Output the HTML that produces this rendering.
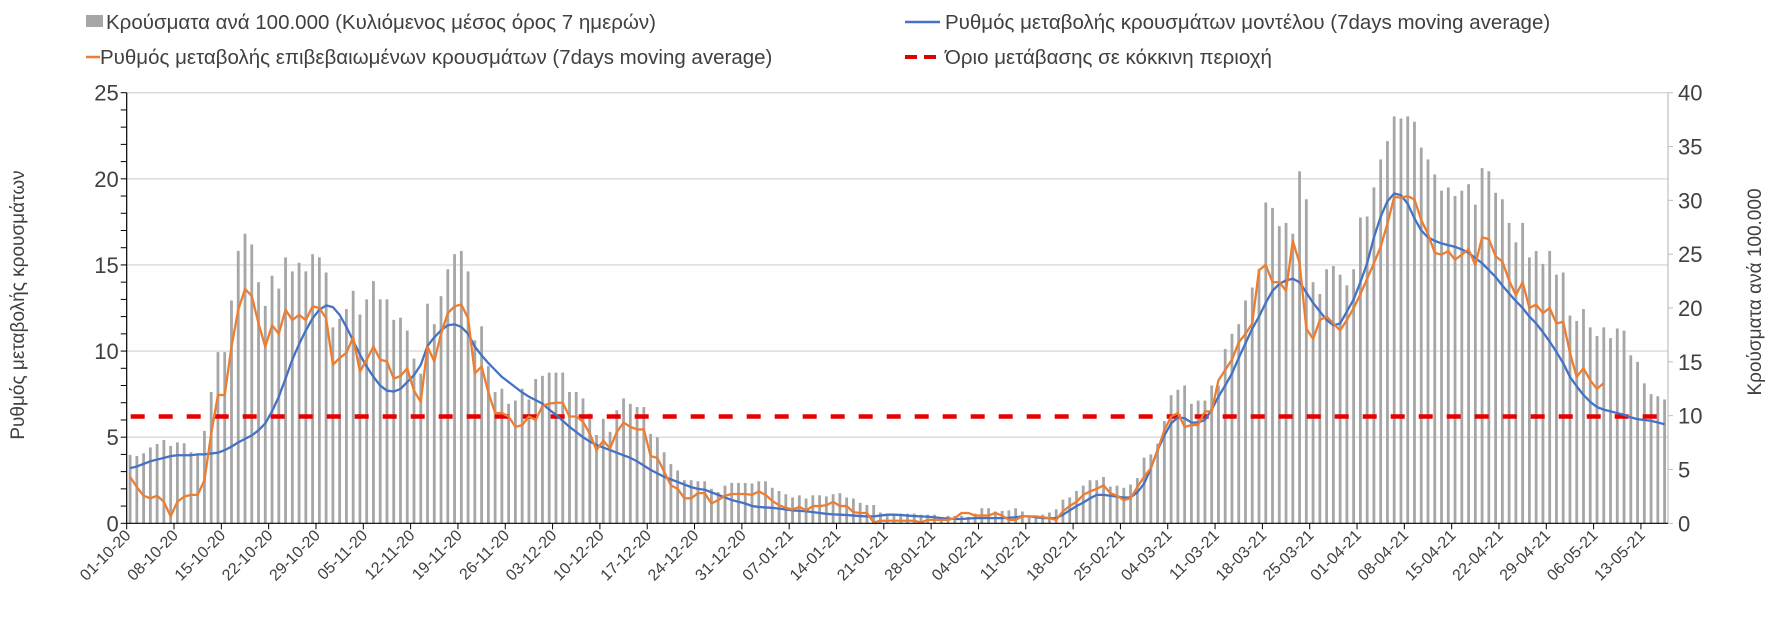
<!DOCTYPE html>
<html><head><meta charset="utf-8">
<style>
html,body{margin:0;padding:0;background:#fff;}
svg{display:block;font-family:"Liberation Sans","DejaVu Sans",sans-serif;}
</style></head>
<body>
<svg id="chart" width="1771" height="621" viewBox="0 0 1771 621" xmlns="http://www.w3.org/2000/svg">
<rect width="1771" height="621" fill="#fff"/>
<g id="grid"></g>
<g id="bars"></g>
<g id="lines"></g>
<g id="axes"></g>
<g id="legend">
  <rect x="86" y="15" width="17" height="12" fill="#a6a6a6"/>
  <text x="106" y="29" font-size="20.5" fill="#404040">Κρούσματα ανά 100.000 (Κυλιόμενος μέσος όρος 7 ημερών)</text>
  <line x1="905" y1="22" x2="940" y2="22" stroke="#4472c4" stroke-width="2.5"/>
  <text x="945" y="29" font-size="20.5" fill="#404040">Ρυθμός μεταβολής κρουσμάτων μοντέλου (7days moving average)</text>
  <line x1="86" y1="57" x2="100" y2="57" stroke="#ed7d31" stroke-width="2.5"/>
  <text x="100" y="64" font-size="20.5" fill="#404040">Ρυθμός μεταβολής επιβεβαιωμένων κρουσμάτων (7days moving average)</text>
  <line x1="905" y1="57" x2="940" y2="57" stroke="#e00000" stroke-width="4" stroke-dasharray="12,7"/>
  <text x="945" y="64" font-size="20.5" fill="#404040">Όριο μετάβασης σε κόκκινη περιοχή</text>
</g>
<text transform="translate(24,305) rotate(-90)" text-anchor="middle" font-size="19" fill="#404040">Ρυθμός μεταβολής κρουσμάτων</text>
<text transform="translate(1761,292) rotate(-90)" text-anchor="middle" font-size="19" fill="#404040">Κρούσματα ανά 100.000</text>
</svg>
<script>
const bars = [6.35,6.25,6.5,7.05,7.37,7.74,7.18,7.52,7.43,6.6,6.5,8.58,12.2,15.9,15.9,20.7,25.3,26.9,25.9,22.4,20.2,23.0,21.8,24.7,23.4,24.2,23.4,25.0,24.7,23.3,18.2,19.0,19.9,21.6,19.4,20.8,22.5,20.8,20.8,18.9,19.1,17.9,15.3,13.9,20.4,18.5,
21.1,23.6,25.0,25.3,23.4,17.0,18.3,14.6,12.2,12.5,11.1,11.4,12.5,11.5,13.4,13.7,14.0,14.0,14.0,12.2,12.2,11.6,10.2,8.2,9.7,8.5,10.5,11.6,11.1,10.8,10.8,8.3,8.0,6.6,5.5,4.9,4.0,4.0,3.9,3.9,3.2,2.9,3.5,3.75,3.75,3.75,
3.7,3.9,3.9,3.3,3.0,2.7,2.4,2.6,2.3,2.6,2.6,2.5,2.7,2.8,2.4,2.3,1.9,1.7,1.7,1.0,0.8,0.9,0.9,0.9,0.9,0.8,0.8,0.8,0.6,0.7,0.7,0.7,0.6,0.9,1.4,1.4,1.1,1.15,1.2,1.4,1.1,0.7,0.6,0.8,1.0,
1.3,2.2,2.4,3.0,3.5,4.0,4.0,4.3,3.4,3.5,3.3,3.6,4.2,6.1,6.4,7.4,9.5,11.9,12.4,12.8,11.1,11.4,11.4,12.8,12.8,16.2,17.6,18.5,20.7,21.9,23.6,29.8,29.3,27.6,27.9,26.9,32.7,30.1,22.4,21.3,23.6,23.9,23.1,22.1,23.6,28.4,
28.5,31.2,33.8,35.5,37.8,37.6,37.8,37.3,34.9,33.8,32.4,30.9,31.2,30.4,30.9,31.5,29.6,33.0,32.7,30.7,30.1,27.9,26.1,27.9,24.7,25.3,24.1,25.3,23.1,23.3,19.3,18.8,19.9,18.2,17.4,18.2,17.2,18.1,17.9,15.6,15.0,13.0,12.0,11.8,11.5];
const modelRate = [3.2,3.3,3.45,3.6,3.7,3.8,3.9,3.95,3.95,3.95,4.0,4.0,
4.05,4.1,4.25,4.45,4.7,4.9,5.1,5.4,5.8,6.5,7.35,8.4,9.5,10.4,11.2,11.9,12.4,12.65,
12.55,12.1,11.4,10.6,9.8,9.1,8.5,8.0,7.7,7.65,7.8,8.2,8.6,9.2,10.3,10.8,11.2,11.5,11.55,11.4,11.0,
10.25,9.75,9.3,8.9,8.5,8.2,7.9,7.6,7.35,7.15,6.95,6.6,6.3,5.95,5.6,5.3,5.0,4.75,4.55,4.4,4.25,4.1,3.95,3.8,3.6,3.35,3.1,2.9,2.7,2.55,2.4,2.25,2.1,2.0,1.95,1.8,1.65,1.5,1.35,1.25,1.15,
1.0,0.95,0.92,0.9,0.85,0.8,0.75,0.72,0.7,0.65,0.6,0.55,0.52,0.5,0.48,0.45,0.42,0.4,0.4,0.45,0.5,0.5,0.48,0.45,0.42,0.4,0.38,0.35,0.3,0.28,0.25,0.25,0.28,0.3,0.3,0.3,0.3,0.3,0.32,0.35,0.4,0.4,0.35,0.3,0.3,
0.3,0.5,0.75,1.0,1.2,1.45,1.65,1.65,1.6,1.55,1.5,1.5,1.8,2.3,3.2,4.25,5.1,5.8,6.15,6.1,5.85,5.85,6.0,6.6,7.35,8.0,8.7,9.6,10.45,11.3,12.0,12.8,13.5,13.9,14.1,14.2,14.0,13.4,12.8,12.3,11.8,11.5,11.6,12.3,13.0,14.0,
15.1,16.6,17.8,18.7,19.15,19.05,18.55,17.7,17.0,16.6,16.4,16.25,16.15,16.05,15.9,15.7,15.4,15.1,14.7,14.3,13.8,13.35,12.9,12.5,12.0,11.6,11.1,10.55,9.95,9.3,8.5,7.95,7.45,7.05,6.75,6.6,6.5,6.4,6.3,6.15,6.05,6.0,5.95,5.85,5.75];
const confirmedRate = [2.7,2.1,1.6,1.45,1.6,1.25,0.4,1.25,1.55,1.65,1.65,2.5,5.2,7.45,7.45,10.25,12.4,13.6,13.2,11.6,10.25,11.5,11.0,12.4,11.8,12.1,11.8,12.6,12.5,11.9,9.2,9.6,9.9,10.8,8.8,9.5,10.25,9.5,9.4,8.4,8.55,9.0,7.7,7.05,10.25,9.4,
11.0,12.2,12.6,12.7,11.9,8.7,9.1,7.6,6.4,6.4,6.2,5.6,5.7,6.2,6.0,6.8,6.95,7.0,7.0,6.2,6.2,5.9,5.2,4.25,4.8,4.35,5.3,5.85,5.6,5.45,5.45,3.9,3.8,3.0,2.2,2.0,1.45,1.45,1.75,1.75,1.15,1.35,1.6,1.7,1.7,1.7,
1.65,1.85,1.65,1.3,1.05,0.9,0.8,0.95,0.75,1.0,1.0,1.05,1.25,1.0,1.0,0.65,0.6,0.6,0.05,0.15,0.15,0.15,0.15,0.15,0.15,0.05,0.2,0.2,0.2,0.2,0.3,0.6,0.6,0.45,0.45,0.45,0.6,0.45,0.2,0.2,0.4,0.4,0.4,0.35,0.3,
0.2,0.7,1.0,1.25,1.65,1.85,2.0,2.2,1.75,1.6,1.35,1.45,2.1,2.7,3.2,4.25,5.4,6.2,6.4,5.6,5.7,5.7,6.5,6.5,8.3,8.9,9.5,10.5,11.0,11.6,14.7,15.0,14.0,14.0,13.5,16.4,15.1,11.3,10.7,11.8,12.0,11.6,11.2,11.8,12.5,13.3,
14.2,15.1,16.05,17.4,18.95,18.9,19.0,18.8,17.6,16.8,15.7,15.6,15.8,15.3,15.6,15.9,15.0,16.6,16.5,15.5,15.2,14.1,13.25,14.0,12.5,12.7,12.2,12.5,11.6,11.7,9.9,8.5,9.0,8.3,7.8,8.15];
const threshold = [6.2];
const leftTicks = [0,5,10,15,20,25];
const rightTicks = [0,5,10,15,20,25,30,35,40];
const dateLabels = ["01-10-20","08-10-20","15-10-20","22-10-20","29-10-20","05-11-20","12-11-20","19-11-20","26-11-20","03-12-20","10-12-20","17-12-20","24-12-20","31-12-20","07-01-21","14-01-21","21-01-21","28-01-21","04-02-21","11-02-21","18-02-21","25-02-21","04-03-21","11-03-21","18-03-21","25-03-21","01-04-21","08-04-21","15-04-21","22-04-21","29-04-21","06-05-21","13-05-21"];

const NS="http://www.w3.org/2000/svg";
const X0=126.7, DX=6.76, NCAT=228, Y0=523.3, TOP=92.7;
const xEdge = i => X0 + DX*i;
const xC = i => X0 + DX*(i+0.5);
const yL = v => Y0 - v*(Y0-TOP)/25;
const yR = v => Y0 - v*(Y0-TOP)/40;
const XR = xEdge(NCAT);
function mk(tag, attrs, parent){const e=document.createElementNS(NS,tag);for(const k in attrs)e.setAttribute(k,attrs[k]);parent.appendChild(e);return e;}

const grid=document.getElementById('grid');
leftTicks.forEach(v=>{ if(v===0) return;
  const l=mk('line',{x1:X0,x2:XR,y1:yL(v),y2:yL(v),stroke:'#d9d9d9','stroke-width':1.3},grid);
  
  
});

const bg=document.getElementById('bars');
bars.forEach((v,i)=>{
  const r=mk('rect',{x:xC(i)-1.4,y:yR(v),width:2.8,height:Y0-yR(v),fill:'#a6a6a6'},bg);
  
  
});

const lg=document.getElementById('lines');
const th=mk('line',{x1:X0+4,x2:XR,y1:yL(threshold[0]),y2:yL(threshold[0]),stroke:'#e60000','stroke-width':4.5,'stroke-dasharray':'14,14'},lg);


const pb=mk('polyline',{points:modelRate.map((v,i)=>xC(i)+','+yL(v)).join(' '),fill:'none',stroke:'#4472c4','stroke-width':2.3,'stroke-linejoin':'round'},lg);


const po=mk('polyline',{points:confirmedRate.map((v,i)=>xC(i)+','+yL(v)).join(' '),fill:'none',stroke:'#ed7d31','stroke-width':2.3,'stroke-linejoin':'round'},lg);



const ax=document.getElementById('axes');
const la=mk('line',{x1:X0,x2:X0,y1:TOP,y2:Y0,stroke:'#000','stroke-width':1.2},ax);


for(let v=0; v<=25; v++){
  const t=mk('line',{x1:X0-6,x2:X0,y1:yL(v),y2:yL(v),stroke:'#000','stroke-width':1},ax);
  
  
}
leftTicks.forEach(v=>{
  const t=mk('text',{x:X0-8,y:yL(v)+8,'text-anchor':'end','font-size':22,fill:'#404040'},ax);
  t.textContent=v;
  
  
});
const ra=mk('line',{x1:XR,x2:XR,y1:TOP,y2:Y0,stroke:'#bfbfbf','stroke-width':1.2},ax);


rightTicks.forEach(v=>{
  const tk=mk('line',{x1:XR,x2:XR+5,y1:yR(v),y2:yR(v),stroke:'#bfbfbf','stroke-width':1},ax);
  
  
  const t=mk('text',{x:XR+10,y:yR(v)+8,'text-anchor':'start','font-size':22,fill:'#404040'},ax);
  t.textContent=v;
  
  
});
const xa=mk('line',{x1:X0,x2:XR,y1:Y0,y2:Y0,stroke:'#000','stroke-width':1.2},ax);


dateLabels.forEach((s,k)=>{
  const x=xEdge(k*7);
  const tk=mk('line',{x1:x,x2:x,y1:Y0,y2:Y0+6,stroke:'#000','stroke-width':1},ax);
  
  
  const t=mk('text',{transform:'translate('+(x+5)+','+(Y0+13)+') rotate(-45)','text-anchor':'end','font-size':16,fill:'#404040'},ax);
  t.textContent=s;
  
  
});
</script>
</body></html>
